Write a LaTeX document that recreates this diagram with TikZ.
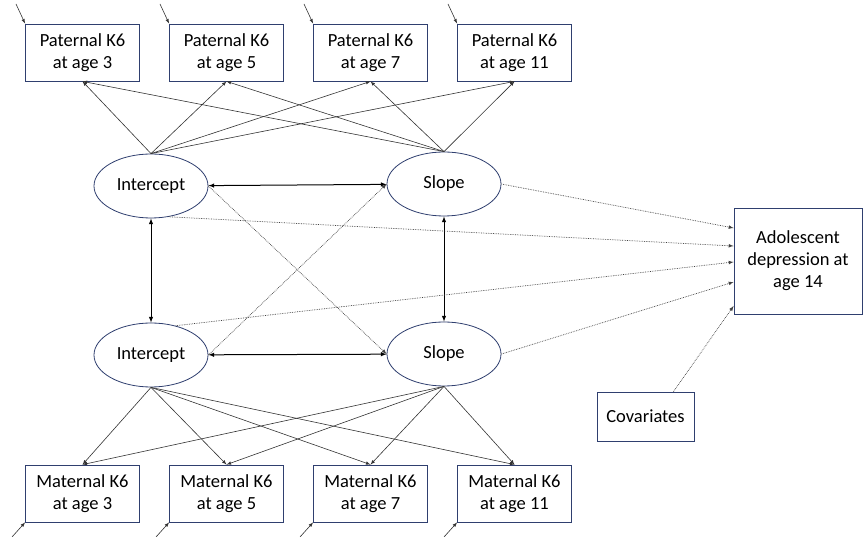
\documentclass[tikz,border=0pt]{standalone}
\usepackage{fontspec}
\setmainfont{Carlito}
\usepackage{tikz}
\usetikzlibrary{shapes,arrows}

\definecolor{navy}{HTML}{2F3F6F}
\definecolor{linegray}{HTML}{333333}
\tikzset{
  obs/.style={shape=rectangle, draw=navy, line width=0.8pt, align=center, minimum width=114, minimum height=57, inner sep=0pt},
  latent/.style={shape=ellipse, draw=navy, line width=0.8pt, minimum width=114, minimum height=64, inner sep=0pt},
  load/.style={->, draw=linegray, line width=0.6pt},
  cov/.style={<->, draw=black, line width=1pt},
  pred/.style={->, draw=black!75, line width=0.7pt, densely dotted}
}

\begin{document}
\begin{tikzpicture}[x=1pt, y=-1pt, >=latex, font=\fontsize{18.5}{22}\selectfont]
\useasboundingbox (0,0) rectangle (863,537);

\node (pk3) at (82.5,52.5) [obs]{Paternal K6\\at age 3};
\node (pk5) at (226.5,52.5) [obs]{Paternal K6\\at age 5};
\node (pk7) at (370.5,52.5) [obs]{Paternal K6\\at age 7};
\node (pk11) at (514.5,52.5) [obs]{Paternal K6\\at age 11};

\node (pi) at (151,186) [latent]{Intercept};
\node (ps) at (444,184) [latent]{Slope};
\node (mi) at (151,355) [latent]{Intercept};
\node (ms) at (444,354) [latent]{Slope};

\node (mk3) at (82.5,493.5) [obs]{Maternal K6\\at age 3};
\node (mk5) at (226.5,493.5) [obs]{Maternal K6\\at age 5};
\node (mk7) at (370.5,493.5) [obs]{Maternal K6\\at age 7};
\node (mk11) at (514.5,493.5) [obs]{Maternal K6\\at age 11};

\node (adol) at (798,261) [obs, minimum width=128, minimum height=106]{Adolescent\\depression at\\age 14};
\node (covs) at (645.5,416.5) [obs, minimum width=97, minimum height=49]{Covariates};

% residual arrows
\coordinate (ep3) at (16,4);
\coordinate (ep5) at (160,4);
\coordinate (ep7) at (304,4);
\coordinate (ep11) at (448,4);
\coordinate (em3) at (12,537);
\coordinate (em5) at (156,537);
\coordinate (em7) at (300,537);
\coordinate (em11) at (444,537);
\draw [load] (ep3) -- (pk3.north west);
\draw [load] (ep5) -- (pk5.north west);
\draw [load] (ep7) -- (pk7.north west);
\draw [load] (ep11) -- (pk11.north west);
\draw [load] (em3) -- (mk3.south west);
\draw [load] (em5) -- (mk5.south west);
\draw [load] (em7) -- (mk7.south west);
\draw [load] (em11) -- (mk11.south west);

% loadings
\foreach \k in {pk3,pk5,pk7,pk11} {
  \draw [load] (pi.north) -- (\k.south);
  \draw [load] (ps.north) -- (\k.south);
}
\foreach \k in {mk3,mk5,mk7,mk11} {
  \draw [load] (mi.south) -- (\k.north);
  \draw [load] (ms.south) -- (\k.north);
}

% covariances
\draw [cov] (pi) -- (ps);
\draw [cov] (mi) -- (ms);
\draw [cov] (pi) -- (mi);
\draw [cov] (ps) -- (ms);

% cross-lagged and outcome paths
\draw [pred] (pi.east) -- (ms.west);
\draw [pred] (mi.east) -- (ps.west);
\draw [pred] (ps.east) -- ([yshift=33]adol.west);
\draw [pred] (pi.-60) -- ([yshift=15]adol.west);
\draw [pred] (mi.50) -- ([yshift=-1]adol.west);
\draw [pred] (ms.east) -- ([yshift=-21]adol.west);
\draw [pred] ([xshift=28]covs.north) -- ([yshift=-45]adol.west);
\end{tikzpicture}
\end{document}
